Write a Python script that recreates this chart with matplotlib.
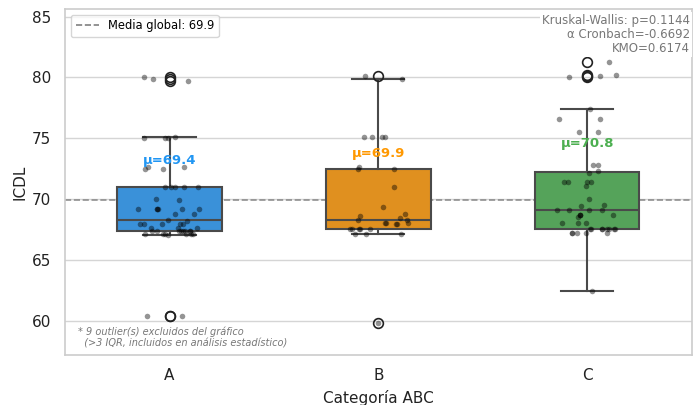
import numpy as np
import matplotlib
matplotlib.use("Agg")
import matplotlib.pyplot as plt
from matplotlib.lines import Line2D

categories = ["A", "B", "C"]
values_A = [80.0, 79.9, 79.7, 75.1, 75.0, 75.0, 75.0, 72.6, 72.6, 72.5, 72.5,
            71.0, 71.0, 71.0, 71.0, 71.0, 70.0, 69.9,
            69.2, 69.2, 69.2, 69.2, 69.2, 69.2, 68.8, 68.8, 68.3, 68.2,
            67.9, 67.9, 67.9, 67.9, 67.9, 67.6, 67.6, 67.6,
            67.4, 67.4, 67.4, 67.4, 67.4, 67.4, 67.4, 67.4,
            67.1, 67.1, 67.1, 67.1, 67.1, 67.1, 67.0, 60.4, 60.4]
values_B = [80.1, 79.9, 75.1, 75.1, 75.1, 75.1, 72.6, 72.5, 72.5, 71.0,
            69.3, 68.8, 68.6, 68.4, 68.3, 68.3, 68.0, 68.0, 68.0, 67.9, 67.9,
            67.5, 67.5, 67.5, 67.5, 67.5, 67.1, 67.1, 67.1, 59.8]
values_C = [81.3, 80.2, 80.1, 80.0, 77.4, 76.6, 76.6, 75.5, 75.5, 72.8, 72.8,
            72.3, 72.1, 71.4, 71.4, 71.4, 71.4, 71.1, 70.0, 69.5, 69.4,
            69.1, 69.1, 69.1, 69.1, 68.7, 68.7, 68.7, 68.7, 68.5,
            68.0, 68.0, 68.0, 67.5, 67.5, 67.5, 67.5, 67.5, 67.5, 67.5, 67.5,
            67.2, 67.2, 67.2, 67.2, 67.2, 62.4]
group_means = [69.4, 69.9, 70.8]
global_mean = 69.9
stats_lines = ["Kruskal-Wallis: p=0.1144", "α Cronbach=-0.6692", "KMO=0.6174"]
footnote_lines = ["* 9 outlier(s) excluidos del gráfico",
                  "  (>3 IQR, incluidos en análisis estadístico)"]

box_colors = ["#3A91D9", "#E0901F", "#55A35A"]
label_colors = ["#2196F3", "#FF9800", "#4CAF50"]
edge = "#4a4a4a"

fig = plt.figure(figsize=(6.93, 4.05), dpi=100)
ax = fig.add_axes([0.094, 0.123, 0.904, 0.855])
ax.set_facecolor("white")

data = [values_A, values_B, values_C]
pos = np.arange(len(categories))
bp = ax.boxplot(data, positions=pos, widths=0.5, patch_artist=True,
                medianprops=dict(color=edge, linewidth=1.5),
                whiskerprops=dict(color=edge, linewidth=1.5),
                capprops=dict(color=edge, linewidth=1.5),
                boxprops=dict(edgecolor=edge, linewidth=1.5),
                flierprops=dict(marker="o", markerfacecolor="none",
                                markeredgecolor="#222222", markersize=7,
                                markeredgewidth=1.2),
                zorder=2)
for patch, c in zip(bp["boxes"], box_colors):
    patch.set_facecolor(c)

rng = np.random.default_rng(3)
for i, vals in enumerate(data):
    jit = rng.uniform(-0.15, 0.15, len(vals))
    ax.scatter(pos[i] + jit, vals, s=16, color="black", alpha=0.42,
               linewidths=0, zorder=3)

ax.axhline(global_mean, color="gray", linestyle="--", linewidth=1.2,
           alpha=0.85, zorder=1.5)

for i, m in enumerate(group_means):
    ax.text(pos[i], m + 3.8, f"μ={m}", color=label_colors[i], fontsize=9.5,
            fontweight="bold", ha="center", va="center", zorder=4)

ax.set_xlim(-0.5, 2.5)
ax.set_ylim(57.15, 85.63)
ax.set_xticks(pos)
ax.set_xticklabels(categories, fontsize=11)
ax.set_yticks([60, 65, 70, 75, 80, 85])
ax.tick_params(axis="y", labelsize=11, length=0, pad=10, colors="#222222")
ax.tick_params(axis="x", length=0, pad=9, colors="#222222")
ax.yaxis.grid(True, color="#d5d5d5", linewidth=1.0, zorder=0)
ax.set_axisbelow(True)
for s in ax.spines.values():
    s.set_color("#cccccc")
    s.set_linewidth(1.2)
ax.set_xlabel("Categoría ABC", fontsize=11, color="#222222", labelpad=5)
ax.set_ylabel("ICDL", fontsize=11, color="#222222", labelpad=3)

handle = Line2D([0], [0], color="gray", linestyle="--", linewidth=1.2)
leg = ax.legend([handle], [f"Media global: {global_mean}"], loc="upper left",
                fontsize=8.3, frameon=True, borderpad=0.4,
                handlelength=2.0, bbox_to_anchor=(0.0, 1.0))
leg.get_frame().set_edgecolor("#cccccc")

ax.text(0.997, 0.985, "\n".join(stats_lines), transform=ax.transAxes,
        ha="right", va="top", fontsize=8.5, color="#777777",
        linespacing=1.1,
        bbox=dict(facecolor="white", edgecolor="none", pad=1.5), zorder=5)
ax.text(0.02, 0.02, "\n".join(footnote_lines), transform=ax.transAxes,
        ha="left", va="bottom", fontsize=7, style="italic", color="#777777",
        linespacing=1.1)

fig.savefig("out.png", dpi=100)
